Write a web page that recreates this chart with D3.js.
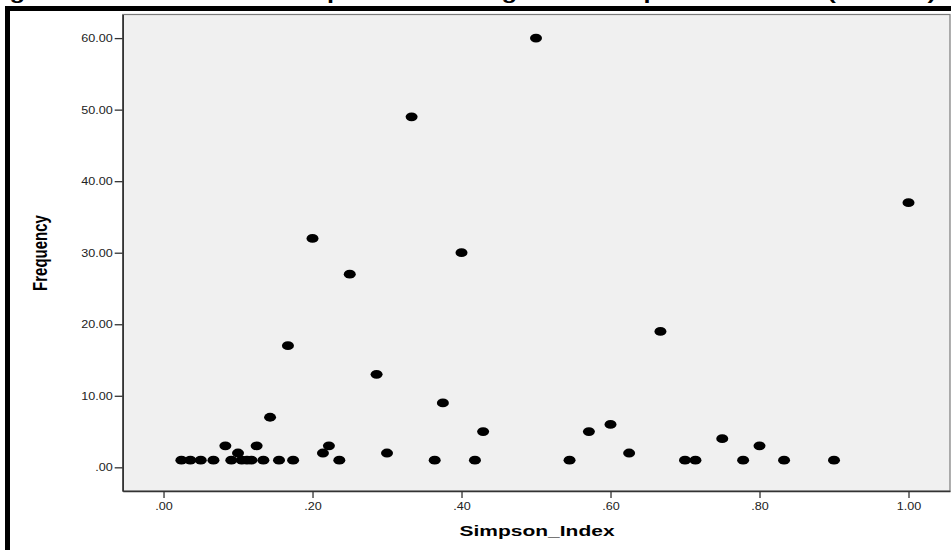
<!DOCTYPE html>
<html><head><meta charset="utf-8">
<script src="https://cdn.jsdelivr.net/npm/d3@7"></script>
<style>body{margin:0;background:#fff;}svg{display:block;}</style>
</head><body>
<script>
const simpsonIndex = [0.024,0.036,0.05,0.067,0.091,0.105,0.112,0.118,0.134,0.155,0.174,0.236,0.364,0.418,0.545,0.70,0.714,0.778,0.833,0.90,
  0.083,0.10,0.125,0.143,0.214,0.222,0.30,0.375,0.429,0.571,0.60,0.625,0.75,0.80,0.50,0.333,0.20,0.40,0.25,0.167,0.286,0.667,1.0];
const frequency = [1,1,1,1,1,1,1,1,1,1,1,1,1,1,1,1,1,1,1,1,
  3,2,3,7,2,3,2,9,5,5,6,2,4,3,60,49,32,30,27,17,13,19,37];
const xTicks = [0,0.2,0.4,0.6,0.8,1.0];
const yTicks = [0,10,20,30,40,50,60];
const titleText = "Figure 4: Distribution of Simpson's Index against Group Size of Trees (2016/17)";
const xTitle = "Simpson_Index";
const yTitle = "Frequency";

const W = 951, H = 550, SX = 1.35;
const svg = d3.select("body").append("svg").attr("width", W).attr("height", H);
const font = "'Liberation Sans', Arial, sans-serif";

// cropped title
svg.append("text").attr("transform", "translate(-13,-1.5) scale(1.332,1)")
  .attr("font-family", font).attr("font-weight", "bold").attr("font-size", 19)
  .attr("fill", "#000").text(titleText);

// black frame (cropped)
svg.append("rect").attr("x", 5).attr("y", 6).attr("width", W - 5).attr("height", 5).attr("fill", "#000");
svg.append("rect").attr("x", 5).attr("y", 6).attr("width", 5).attr("height", H - 6).attr("fill", "#000");

const L = 122.7, R = 950, T = 14.5, B = 491;
const x = d3.scaleLinear().domain([-0.0548, 1.0557]).range([L, R]);
const y = d3.scaleLinear().domain([-3.31, 63.3]).range([B, T]);

svg.append("rect").attr("x", L).attr("y", T).attr("width", R - L).attr("height", B - T)
  .attr("fill", "#f0f0f0").attr("stroke", "#7a7a7a").attr("stroke-width", 1.2);

const fmt = v => d3.format(".2f")(v).replace(/^0\./, ".");

const gy = svg.append("g").attr("transform", `translate(${L},0)`)
  .call(d3.axisLeft(y).tickValues(yTicks).tickFormat(fmt).tickSize(8).tickSizeOuter(0));
const gx = svg.append("g").attr("transform", `translate(0,${B})`)
  .call(d3.axisBottom(x).tickValues(xTicks).tickFormat(fmt).tickSize(7).tickSizeOuter(0));

[gy, gx].forEach(g => {
  g.select(".domain").attr("stroke", "#333").attr("stroke-width", 1.6);
  g.selectAll(".tick line").attr("stroke", "#333").attr("stroke-width", 1.3);
  g.selectAll(".tick text").attr("font-family", font).attr("font-size", 10.5).attr("fill", "#222");
});
gy.selectAll(".tick text").attr("x", null).attr("dy", "0.35em")
  .attr("transform", `translate(-10,0) scale(1.2,1)`);
gx.selectAll(".tick text").attr("y", null).attr("dy", null)
  .attr("transform", `translate(0,19) scale(1.2,1)`);

// axis titles
svg.append("text").attr("transform", `translate(537,536) scale(1.4,1)`)
  .attr("text-anchor", "middle").attr("font-family", font).attr("font-weight", "bold")
  .attr("font-size", 15).attr("fill", "#000").text(xTitle);
svg.append("text").attr("transform", `translate(47,253) scale(${SX},1) rotate(-90)`)
  .attr("text-anchor", "middle").attr("font-family", font).attr("font-weight", "bold")
  .attr("font-size", 15).attr("fill", "#000").text(yTitle);

// points
svg.append("g").selectAll("ellipse").data(simpsonIndex.map((s, i) => [s, frequency[i]]))
  .join("ellipse")
  .attr("cx", d => x(d[0])).attr("cy", d => y(d[1]))
  .attr("rx", 6).attr("ry", 4.4).attr("fill", "#000");
</script>
</body></html>
